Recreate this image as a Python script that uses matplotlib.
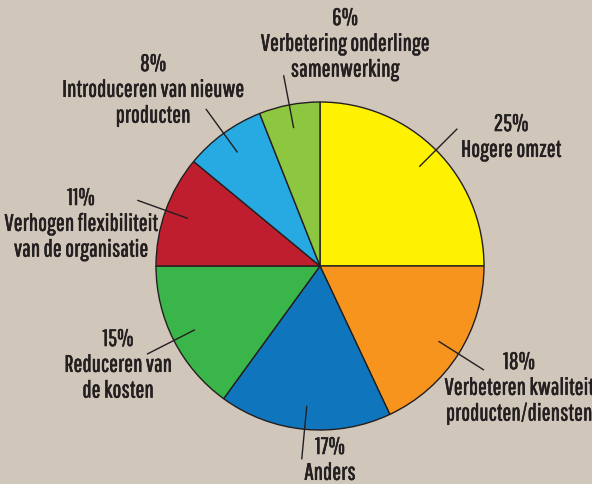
import numpy as np
import matplotlib
matplotlib.use('Agg')
import matplotlib.pyplot as plt
import matplotlib.patheffects as pe

# data, clockwise from 12 o'clock
percents = [25, 18, 17, 15, 11, 8, 6]
labels = ['Hogere omzet',
          'Verbeteren kwaliteit\nproducten/diensten',
          'Anders',
          'Reduceren van\nde kosten',
          'Verhogen flexibiliteit\nvan de organisatie',
          'Introduceren van nieuwe\nproducten',
          'Verbetering onderlinge\nsamenwerking']
colors = ['#fff200', '#f7941d', '#0f75bc', '#39b54a', '#be1e2d', '#27aae1', '#8dc63f']

# text block top-centres (pixels, y down)
label_pos = [(511, 115), (519, 353), (330, 438), (118, 330),
             (81, 189), (153, 55), (345, 9)]

bg = '#d1c6ba'
txt_col = '#231f20'

plt.rcParams['font.family'] = ['Pathway Gothic One', 'Oswald', 'DejaVu Sans']

W, H = 592, 485
fig = plt.figure(figsize=(W / 100, H / 100), dpi=100)
fig.patch.set_facecolor(bg)
ax = fig.add_axes([0, 0, 1, 1])
ax.set_facecolor(bg)

cx, cy, R = 320, 267, 164

# y axis gets inverted, so counterclock=True draws clockwise on screen
wedges, _ = ax.pie(percents, colors=colors, startangle=-90, counterclock=True,
                   center=(cx, cy), radius=R,
                   wedgeprops=dict(edgecolor='#231f20', linewidth=1.0))
ax.set_xlim(0, W)
ax.set_ylim(H, 0)
ax.set_aspect('equal')
ax.axis('off')

for w, p, lab, (tx, ty) in zip(wedges, percents, labels, label_pos):
    mid = np.deg2rad((w.theta1 + w.theta2) / 2)
    x0, y0 = cx + 0.86 * R * np.cos(mid), cy + 0.86 * R * np.sin(mid)
    x1, y1 = cx + 1.18 * R * np.cos(mid), cy + 1.18 * R * np.sin(mid)
    ax.plot([x0, x1], [y0, y1], color='#231f20', lw=1.0)
    ax.text(tx, ty, f'{p}%\n{lab}', ha='center', va='top', fontsize=17,
            color=txt_col, linespacing=1.28, transform=ax.transData,
            path_effects=[pe.withStroke(linewidth=0.4, foreground=txt_col)])

fig.savefig('out.png', dpi=100, facecolor=bg)
